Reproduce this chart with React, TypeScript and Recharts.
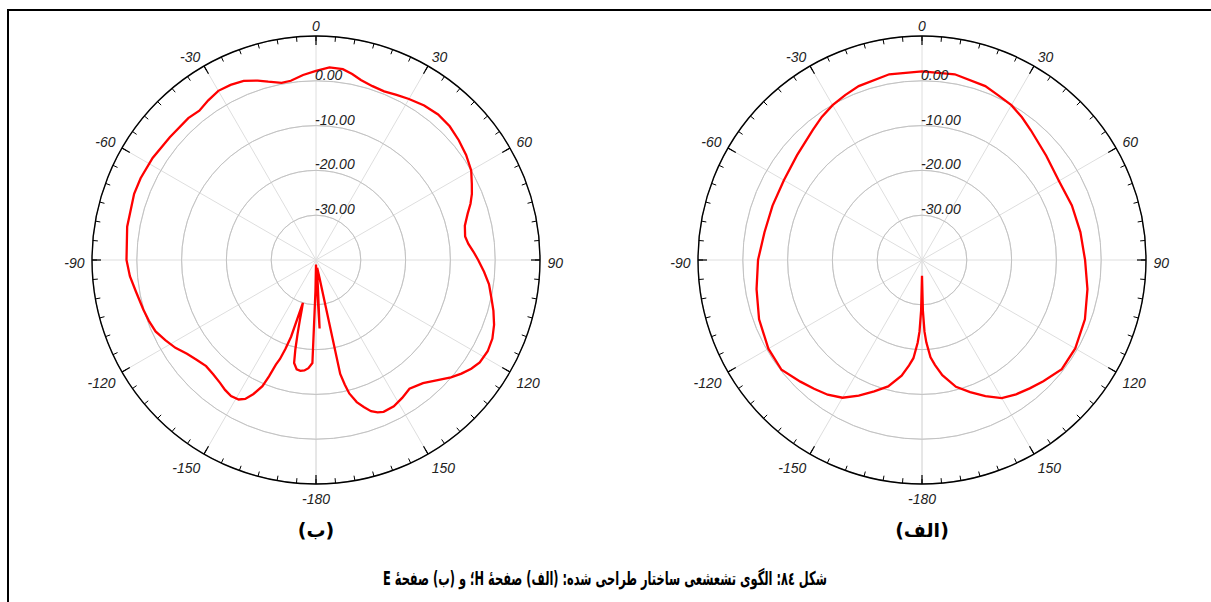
import React from 'react';
import { RadarChart, Radar, PolarGrid, PolarAngleAxis, PolarRadiusAxis } from 'recharts';

// ---- E-plane pattern, panel (ب) : angle (deg) / gain (dB)
const ePlaneAngles = [
  -180, -179, -178, -176, -174, -172, -170, -168, -167, -166, -165, -164, -163, -162, -161, -160,
  -159, -158, -157, -155, -153, -151, -148, -145, -142, -138, -134, -130, -126, -122, -118, -114,
  -110, -106, -100, -95, -90, -80, -70, -65, -58, -50, -42, -38, -34, -30, -26, -22, -18, -15,
  -11, -8, -4, 0, 4, 8, 11, 14, 18, 22, 26, 30, 35, 40, 45, 50, 55, 60, 64, 67, 70, 73, 77, 81,
  84, 87, 90, 94, 98, 102, 106, 110, 114, 118, 122, 125, 128, 131, 135, 139, 144, 148, 152, 156,
  158, 160, 162, 164, 166, 167, 168, 169, 171, 173, 175, 176, 177, 178, 179,
];
const ePlaneGain = [
  -39, -33, -17, -15.8, -15.2, -15.0, -15.2, -16.5, -19.5, -23, -26, -28.5, -30, -22, -19, -16.5,
  -15, -12, -9.4, -7, -5.2, -4.4, -4.2, -4.6, -5.2, -5.7, -5.9, -5.3, -4.4, -3.0, -1.9, -0.8,
  -0.3, 0.1, 0.8, 1.7, 2.3, 2.8, 3.2, 3.2, 3.0, 2.6, 2.6, 2.3, 3.0, 3.6, 3.5, 3.1, 2.1, 1.2,
  0.3, 0.4, 1.4, 2.2, 3.1, 3.0, 2.3, 1.4, 0.8, 0.6, 1.0, 1.5, 2.1, 2.4, 2.2, 1.6, 0.9, 0.0, -1.3, -2.2, -3.3, -4.6, -5.9, -6.3,
  -5.8, -4.8, -3.8, -2.4, -1.0, 0.0, 1.2, 2.3, 3.1, 3.4, 3.1, 2.3, 1.2, -0.1, -2.0, -3.6, -4.5, -3.7, -3.0, -2.9,
  -3.3, -4.1, -5.5, -7.0, -9.3, -11.5, -14, -36, -38, -38, -37, -34, -24.7, -35, -38,
];

// ---- H-plane pattern, panel (الف) : angle (deg) / gain (dB)
const hPlaneAngles = [
  -180, -179, -178, -177, -175, -173, -170, -165, -160, -155, -150, -145, -140, -135, -128, -120,
  -110, -100, -90, -80, -70, -60, -50, -40, -35, -30, -25, -20, -10, 0, 10, 20, 25, 30, 35, 40,
  50, 60, 70, 80, 90, 100, 110, 120, 128, 135, 140, 145, 150, 155, 160, 165, 170, 173, 175, 177,
  178, 179,
];
const hPlaneGain = [
  -36.5, -28.7, -24, -21.5, -18, -16.3, -13.8, -10.8, -8.8, -6.6, -4.5, -3.3, -2.5, -1.6, -0.2, -0.4,
  -1.3, -2.5, -3.4, -4.3, -4.5, -4.4, -3.6, -2.1, -1.0, -0.1, 0.6, 1.3, 2.1, 2.1, 2.1, 1.3, 0.5, -0.1, -1.1, -2.2,
  -3.8, -4.7, -4.4, -4.1, -3.6, -2.5, -1.3, -0.5, -0.4, -1.7, -2.6, -3.4, -4.4, -6.5, -8.6, -10.7, -13.9, -16.4, -18.2, -21.6,
  -24, -28.7,
];

// ---- axes
const angleDomain = [-180, 180];
const radiusDomain = [-40, 10];
const radiusLabelValues = [-30, -20, -10, 0];
const panelLabels = ['(ب)', '(الف)'];
const caption = 'شکل ۸٤: الگوی تشعشعی ساختار طراحی شده: (الف) صفحهٔ H؛ و (ب) صفحهٔ E';

const LABEL_FONT = '"Liberation Sans", Arial, sans-serif';
const MAJOR_TICK = 9;

const AngleLabel = (props: any) => {
  const { x, y, payload } = props;
  const v = payload.value;
  if (Math.abs(v - 180) < 0.01) return <g />;
  const rad = (-payload.coordinate * Math.PI) / 180;
  const dx = Math.cos(rad);
  const dy = Math.sin(rad);
  const off = MAJOR_TICK + 7.5;
  const lx = x + dx * off;
  const ly = y + dy * off + (dy > 0.1 ? 5 : dy < -0.1 ? -5 : 0) + 2.5;
  const anchor = dx > 0.1 ? 'start' : dx < -0.1 ? 'end' : 'middle';
  return (
    <text x={lx} y={ly} textAnchor={anchor} dominantBaseline="central" fontFamily={LABEL_FONT}
      fontStyle="italic" fontSize={14} fill="#222">
      {String(Math.round(v))}
    </text>
  );
};

const RadiusLabel = (props: any) => {
  const { x, y, payload } = props;
  const v = payload.value;
  if (!radiusLabelValues.includes(Math.round(v))) return <g />;
  return (
    <text x={x - 1} y={y - 1} textAnchor="start" fontFamily={LABEL_FONT} fontStyle="italic"
      fontSize={14} fill="#222">
      {Number(v).toFixed(2)}
    </text>
  );
};

function PolarPanel({ angles, gains, left, label }: { angles: number[]; gains: number[]; left: number; label: string }) {
  const data = angles.map((a, i) => ({ angle: a, gain: gains[i] }));
  return (
    <div style={{ position: 'absolute', left, top: 0, width: 605, height: 560 }}>
      <RadarChart width={605} height={515} cx={316} cy={260} outerRadius={224} innerRadius={0}
        startAngle={270} endAngle={-90} data={data} margin={{ top: 0, right: 0, bottom: 0, left: 0 }}>
        <PolarGrid gridType="circle" stroke="#dedede" strokeWidth={1} />
        <PolarGrid gridType="circle" radialLines={false} stroke="#c2c2c2" strokeWidth={1} />
        <PolarAngleAxis dataKey="angle" type="number" domain={angleDomain} tickCount={13}
          axisLine={false} tickLine={false} tick={false} />
        <PolarAngleAxis angleAxisId="minor" dataKey="angle" type="number" domain={angleDomain} tickCount={73}
          axisLine={{ stroke: '#000', strokeWidth: 1.4 }} axisLineType="circle" orientation="inner"
          tickSize={5} tickLine={{ stroke: '#000', strokeWidth: 1 }} tick={false} />
        <PolarAngleAxis angleAxisId="major" dataKey="angle" type="number" domain={angleDomain} tickCount={13}
          axisLine={false} orientation="inner" tickSize={MAJOR_TICK}
          tickLine={{ stroke: '#000', strokeWidth: 1.2 }} tick={AngleLabel} />
        <PolarRadiusAxis angle={90} type="number" domain={radiusDomain} tickCount={6}
          axisLine={false} tickLine={false} tick={RadiusLabel} />
        <Radar dataKey="gain" stroke="#ff0000" strokeWidth={2.3} fill="none" fillOpacity={0}
          dot={false} isAnimationActive={false} />
      </RadarChart>
      <div style={{ position: 'absolute', left: 316 - 80, width: 160, top: 515, textAlign: 'center',
        fontFamily: '"DejaVu Sans", sans-serif', fontWeight: 'bold', fontSize: 19, lineHeight: '30px',
        direction: 'rtl', color: '#000' }}>
        {label}
      </div>
    </div>
  );
}

export default function App() {
  return (
    <div style={{ position: 'fixed', left: 0, top: 0, width: 1211, height: 602, overflow: 'hidden', background: '#fff' }}>
      <div style={{ position: 'absolute', left: 7, top: 9, width: 1400, height: 800,
        borderTop: '2px solid #000', borderLeft: '2px solid #000' }} />
      <PolarPanel angles={ePlaneAngles} gains={ePlaneGain} left={0} label={panelLabels[0]} />
      <PolarPanel angles={hPlaneAngles} gains={hPlaneGain} left={606} label={panelLabels[1]} />
      <div style={{ position: 'absolute', left: 155, width: 900, top: 562, textAlign: 'center',
        lineHeight: '32px' }}>
        <span style={{ display: 'inline-block', transform: 'scaleX(0.6)', transformOrigin: 'center',
          fontFamily: '"DejaVu Sans", sans-serif', fontWeight: 'bold', fontSize: 19,
          direction: 'rtl', color: '#000', whiteSpace: 'nowrap' }}>
          {caption}
        </span>
      </div>
    </div>
  );
}
